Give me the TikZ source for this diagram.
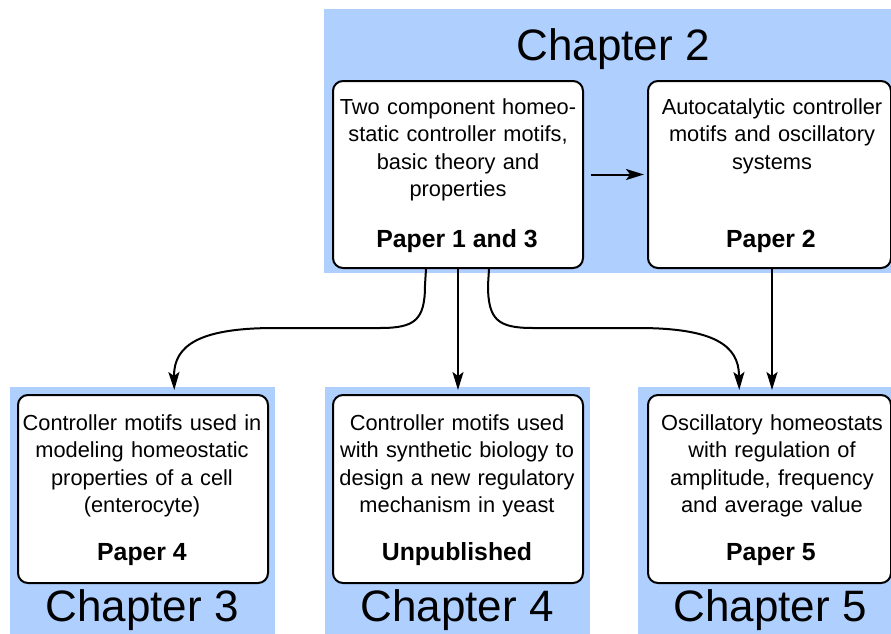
\documentclass[tikz,border=0pt]{standalone}
\usepackage{fontspec}
\setmainfont{Liberation Sans}
\usetikzlibrary{arrows.meta}
\definecolor{chapblue}{RGB}{175,208,255}

\begin{document}
\begin{tikzpicture}[x=1pt,y=-1pt,
  chapter/.style={fill=chapblue, draw=none, inner sep=0pt, anchor=north west},
  chaptitle/.style={font=\fontsize{44}{50}\selectfont, anchor=base, inner sep=0pt},
  paperbox/.style={draw=black, line width=2pt, fill=white, rounded corners=10pt,
    inner sep=0pt, anchor=north west},
  desc/.style={font=\fontsize{21.8}{27.5}\selectfont, align=center, text width=250pt,
    inner sep=0pt, anchor=base},
  tag/.style={font=\fontsize{24.8}{28}\selectfont\bfseries, inner sep=0pt, anchor=base},
  conn/.style={line width=2pt, -{Stealth[length=18pt,width=11pt,inset=4pt]}}]
\useasboundingbox (0,0) rectangle (891,634);

% chapter panels
\node[chapter, minimum width=567pt, minimum height=264pt] (ch2bg) at (324,9) {};
\node[chapter, minimum width=265pt, minimum height=247pt] (ch3bg) at (10,387) {};
\node[chapter, minimum width=265pt, minimum height=247pt] (ch4bg) at (325,387) {};
\node[chapter, minimum width=253pt, minimum height=247pt] (ch5bg) at (638,387) {};

\node[chaptitle] (ch2) at (613,60) {Chapter 2};
\node[chaptitle] (ch3) at (142,621) {Chapter 3};
\node[chaptitle] (ch4) at (457,621) {Chapter 4};
\node[chaptitle] (ch5) at (770,621) {Chapter 5};

% paper boxes
\node[paperbox, minimum width=250pt, minimum height=187pt] (p13) at (332,80) {};
\node[paperbox, minimum width=243pt, minimum height=187pt] (p2) at (647,80) {};
\node[paperbox, minimum width=250pt, minimum height=188pt] (p4) at (17,394) {};
\node[paperbox, minimum width=250pt, minimum height=188pt] (pu) at (332,394) {};
\node[paperbox, minimum width=243pt, minimum height=188pt] (p5) at (647,394) {};

% box texts
\node[desc] (p13txt) at (458,114) {Two component homeo-\\static controller motifs,\\basic theory and\\properties};
\node[tag] (p13tag) at (457,247) {Paper 1 and 3};
\node[desc] (p2txt) at (772,114) {Autocatalytic controller\\motifs and oscillatory\\systems};
\node[tag] (p2tag) at (771,247) {Paper 2};
\node[desc] (p4txt) at (142,430) {Controller motifs used in\\modeling homeostatic\\properties of a cell\\(enterocyte)};
\node[tag] (p4tag) at (142,560) {Paper 4};
\node[desc] (putxt) at (457,430) {Controller motifs used\\with synthetic biology to\\design a new regulatory\\mechanism in yeast};
\node[tag] (putag) at (457,560) {Unpublished};
\node[desc] (p5txt) at (772,430) {Oscillatory homeostats\\with regulation of\\amplitude, frequency\\and average value};
\node[tag] (p5tag) at (771,560) {Paper 5};

% connectors
\draw[conn] ([xshift=7pt]p13.east) -- ([xshift=-3pt]p2.west);
\draw[conn, shorten >=-3pt] (p13.south) -- (p13.south |- ch4bg.north);
\draw[conn, shorten >=-3pt] ([xshift=2.5pt]p2.south) -- ([xshift=2.5pt]p2.south |- ch5bg.north);
\draw[conn, shorten >=-3pt] ([xshift=-32pt]p13.south) -- (425,285)
  .. controls (425,320) and (415,328) .. (380,328) -- (275,328)
  .. controls (200,328) and (174,345) .. (174,376) -- ([xshift=31.5pt]ch3bg.north);
\draw[conn, shorten >=-3pt] ([xshift=31pt]p13.south) -- (488,285)
  .. controls (488,320) and (498,328) .. (533,328) -- (638,328)
  .. controls (713,328) and (739,345) .. (739,376) -- ([xshift=-25.5pt]ch5bg.north);
\end{tikzpicture}
\end{document}
